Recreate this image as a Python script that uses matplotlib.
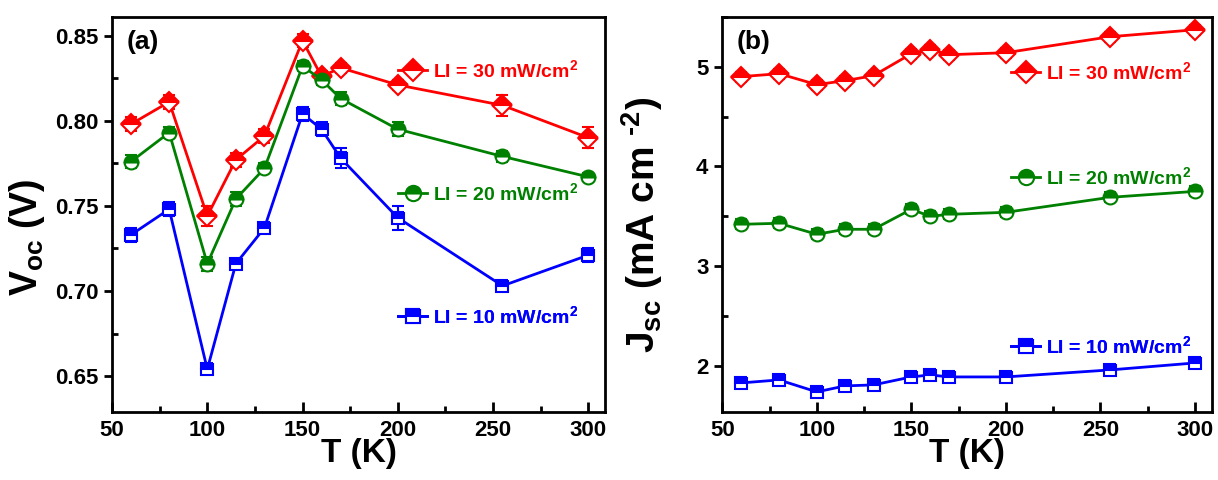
import matplotlib
matplotlib.use('Agg')
import matplotlib.pyplot as plt
from matplotlib.ticker import MultipleLocator, FormatStrFormatter
from matplotlib.lines import Line2D

FONT = 'Liberation Sans'
plt.rcParams['font.family'] = [FONT, 'DejaVu Sans']
plt.rcParams['font.weight'] = 'bold'
plt.rcParams['axes.labelweight'] = 'bold'
plt.rcParams['mathtext.fontset'] = 'custom'
plt.rcParams['mathtext.rm'] = FONT + ':bold'
plt.rcParams['mathtext.bf'] = FONT + ':bold'
plt.rcParams['mathtext.it'] = FONT + ':bold'

temps = [60, 80, 100, 115, 130, 150, 160, 170, 200, 255, 300]

voc_30 = [0.798, 0.811, 0.744, 0.777, 0.791, 0.847, 0.826, 0.831, 0.821, 0.809, 0.790]
voc_20 = [0.776, 0.793, 0.716, 0.754, 0.772, 0.832, 0.824, 0.813, 0.795, 0.779, 0.767]
voc_10 = [0.733, 0.748, 0.654, 0.716, 0.737, 0.804, 0.795, 0.778, 0.743, 0.703, 0.721]
voc_30_err = [0.004, 0.004, 0.006, 0.004, 0.004, 0.004, 0.003, 0.003, 0.003, 0.006, 0.006]
voc_20_err = [0.004, 0.003, 0.004, 0.004, 0.003, 0.003, 0.003, 0.004, 0.004, 0.003, 0.002]
voc_10_err = [0.004, 0.004, 0.003, 0.003, 0.003, 0.004, 0.004, 0.006, 0.007, 0.003, 0.004]

jsc_30 = [4.90, 4.93, 4.82, 4.86, 4.91, 5.13, 5.17, 5.12, 5.14, 5.30, 5.37]
jsc_20 = [3.42, 3.43, 3.32, 3.37, 3.37, 3.57, 3.50, 3.52, 3.54, 3.69, 3.75]
jsc_10 = [1.83, 1.86, 1.74, 1.80, 1.81, 1.89, 1.91, 1.89, 1.89, 1.96, 2.03]
jsc_30_err = [0.05, 0.05, 0.05, 0.05, 0.05, 0.05, 0.05, 0.05, 0.05, 0.05, 0.05]
jsc_20_err = [0.05, 0.05, 0.05, 0.05, 0.05, 0.05, 0.05, 0.05, 0.05, 0.05, 0.05]
jsc_10_err = [0.05, 0.05, 0.05, 0.05, 0.05, 0.05, 0.05, 0.05, 0.05, 0.05, 0.05]

labels = ['LI = 30 mW/cm$^2$', 'LI = 20 mW/cm$^2$', 'LI = 10 mW/cm$^2$']
colors = ['#ff0000', '#008000', '#0000ff']
markers = ['D', 'o', 's']
msizes = [10.5, 10, 9]


def style_axes(ax):
    for sp in ax.spines.values():
        sp.set_linewidth(2)
    ax.xaxis.set_major_locator(MultipleLocator(50))
    ax.xaxis.set_minor_locator(MultipleLocator(25))
    ax.tick_params(axis='x', which='major', direction='in', length=7, width=2,
                   labelsize=16, pad=6)
    ax.tick_params(axis='x', which='minor', direction='in', length=4, width=2)
    ax.tick_params(axis='y', which='major', direction='out', length=6, width=2,
                   labelsize=16, pad=4)
    ax.tick_params(axis='y', which='minor', direction='in', length=4, width=2)
    ax.set_xlim(50, 309)
    ax.set_xlabel('T (K)', fontsize=24, fontweight='bold', labelpad=-2)


def plot_series(ax, ys, errs, legend_pos):
    for y, e, c, m, ms, lab, pos in zip(ys, errs, colors, markers, msizes, labels, legend_pos):
        ax.errorbar(temps, y, yerr=e, color=c, lw=2, elinewidth=1.5, capsize=4,
                    capthick=1.5, marker=m, ms=ms, mfc=c, mec=c,
                    fillstyle='top', markerfacecoloralt='white', mew=1.5)
        h = Line2D([], [], color=c, lw=2, marker=m, ms=ms + 1, mfc=c, mec=c,
                   fillstyle='top', markerfacecoloralt='white', mew=1.5)
        leg = ax.legend([h], [lab], loc='center left', bbox_to_anchor=pos,
                        frameon=False, borderpad=0, borderaxespad=0,
                        handlelength=1.5, handletextpad=0.3,
                        prop={'size': 14, 'weight': 'bold'}, labelcolor=c)
        ax.add_artist(leg)


fig = plt.figure(figsize=(12.18, 4.8), dpi=100)
ax1 = fig.add_axes([0.092, 0.142, 0.405, 0.823])
ax2 = fig.add_axes([0.593, 0.142, 0.402, 0.823])

# (a) open-circuit voltage
plot_series(ax1, [voc_30, voc_20, voc_10], [voc_30_err, voc_20_err, voc_10_err],
            [(0.58, 0.866), (0.58, 0.554), (0.58, 0.243)])
style_axes(ax1)
ax1.set_ylim(0.629, 0.861)
ax1.yaxis.set_major_locator(MultipleLocator(0.05))
ax1.yaxis.set_minor_locator(MultipleLocator(0.025))
ax1.yaxis.set_major_formatter(FormatStrFormatter('%.2f'))
ax1.set_ylabel('V$_{\\mathrm{oc}}$ (V)', fontsize=27, fontweight='bold')
ax1.yaxis.set_label_coords(-0.132, 0.443)
ax1.text(0.03, 0.935, '(a)', transform=ax1.transAxes, fontsize=19,
         fontweight='bold', va='center')

# (b) short-circuit current density
plot_series(ax2, [jsc_30, jsc_20, jsc_10], [jsc_30_err, jsc_20_err, jsc_10_err],
            [(0.59, 0.861), (0.59, 0.595), (0.59, 0.167)])
style_axes(ax2)
ax2.set_ylim(1.54, 5.5)
ax2.yaxis.set_major_locator(MultipleLocator(1))
ax2.yaxis.set_minor_locator(MultipleLocator(0.5))
ax2.set_ylabel('J$_{\\mathrm{sc}}$ (mA cm $^{\\text{-2}}$)', fontsize=28,
               fontweight='bold')
ax2.yaxis.set_label_coords(-0.117, 0.473)
ax2.text(0.03, 0.935, '(b)', transform=ax2.transAxes, fontsize=19,
         fontweight='bold', va='center')

fig.savefig('out.png', dpi=100)
